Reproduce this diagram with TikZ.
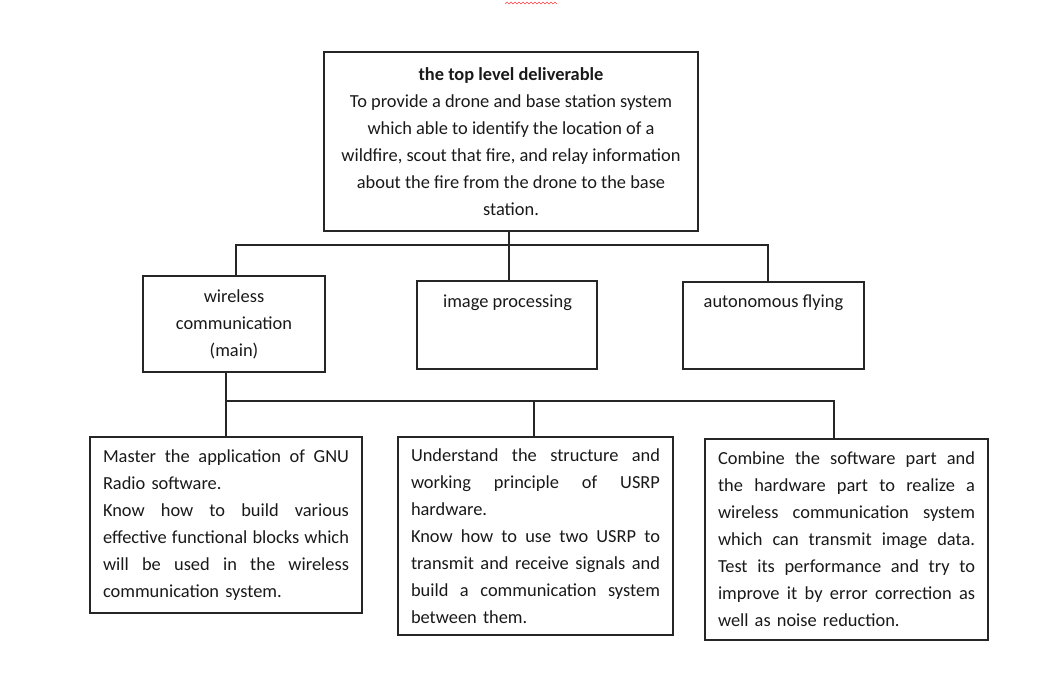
\documentclass[tikz,border=0pt]{standalone}
\usepackage{fontspec}
\setmainfont{Carlito}
\newcommand\jl[1]{\noindent\hbox to \hsize{\spaceskip=0pt\xspaceskip=0pt #1}\par}
\newcommand\lf[1]{\noindent\hbox to \hsize{#1\hfil}\par}
\tikzset{
  box/.style={draw=black!85, line width=1pt, rectangle, inner sep=0pt, align=center},
  txt/.style={font=\fontsize{13.8}{20.25}\selectfont, text=black!90},
  conn/.style={draw=black!85, line width=1pt}
}
\begin{document}
\begin{tikzpicture}[x=0.75pt,y=-0.75pt]
\useasboundingbox (0,0) rectangle (1060,688);
% spell-check squiggle
\draw[red!75, line width=0.5pt] (505,4) \foreach \i in {1,...,13} { -- ({505+4*\i-2},2) -- ({505+4*\i},4)};
% top
\node[box, txt, minimum width=280.5pt, minimum height=134.25pt] (top) at (511,141.5)
  {\textbf{the top level deliverable}\\To provide a drone and base station system\\which able to identify the location of a\\wildfire, scout that fire, and relay information\\about the fire from the drone to the base\\station.};
% level 2
\node[box, txt, minimum width=136.5pt, minimum height=72pt] (wc) at (234,324)
  {wireless\\communication\\(main)};
\node[box, minimum width=135pt, minimum height=66pt] (ip) at (507,325) {};
\node[txt, anchor=base] (ipt) at (507.5,307) {image processing};
\node[box, minimum width=135.75pt, minimum height=65.25pt] (af) at (773.5,325.5) {};
\node[txt, anchor=base] (aft) at (773.5,307) {autonomous flying};
% level 3
\node[box, txt, text width=184.5pt, minimum width=204pt, minimum height=132pt] (s1) at (226,525)
  {\jl{Master the application of GNU}\lf{Radio software.}\jl{Know how to build various}\jl{effective functional blocks which}\jl{will be used in the wireless}\lf{communication system.}};
\node[box, txt, text width=186.75pt, minimum width=206.25pt, minimum height=148.5pt] (s2) at (535.5,536)
  {\jl{Understand the structure and}\jl{working principle of USRP}\lf{hardware.}\jl{Know how to use two USRP to}\jl{transmit and receive signals and}\jl{build a communication system}\lf{between them.}};
\node[box, txt, text width=192.75pt, minimum width=212.25pt, minimum height=150.75pt] (s3) at (846.5,539.5)
  {\jl{Combine the software part and}\jl{the hardware part to realize a}\jl{wireless communication system}\jl{which can transmit image data.}\jl{Test its performance and try to}\jl{improve it by error correction as}\lf{well as noise reduction.}};
% buses
\coordinate (bA) at (236,245);
\coordinate (bB) at (509,245);
\coordinate (bC) at (768,245);
\coordinate (bD) at (226,401);
\coordinate (bE) at (534,401);
\coordinate (bF) at (834,401);
\draw[conn] (top.south -| bB) -- (bB);
\draw[conn] (wc.north -| bA) -- (bA) -- (bC) -- (af.north -| bC);
\draw[conn] (bB) -- (ip.north -| bB);
\draw[conn] (wc.south -| bD) -- (bD) -- (bF) -- (s3.north -| bF);
\draw[conn] (bD) -- (s1.north -| bD);
\draw[conn] (bE) -- (s2.north -| bE);
\end{tikzpicture}
\end{document}
